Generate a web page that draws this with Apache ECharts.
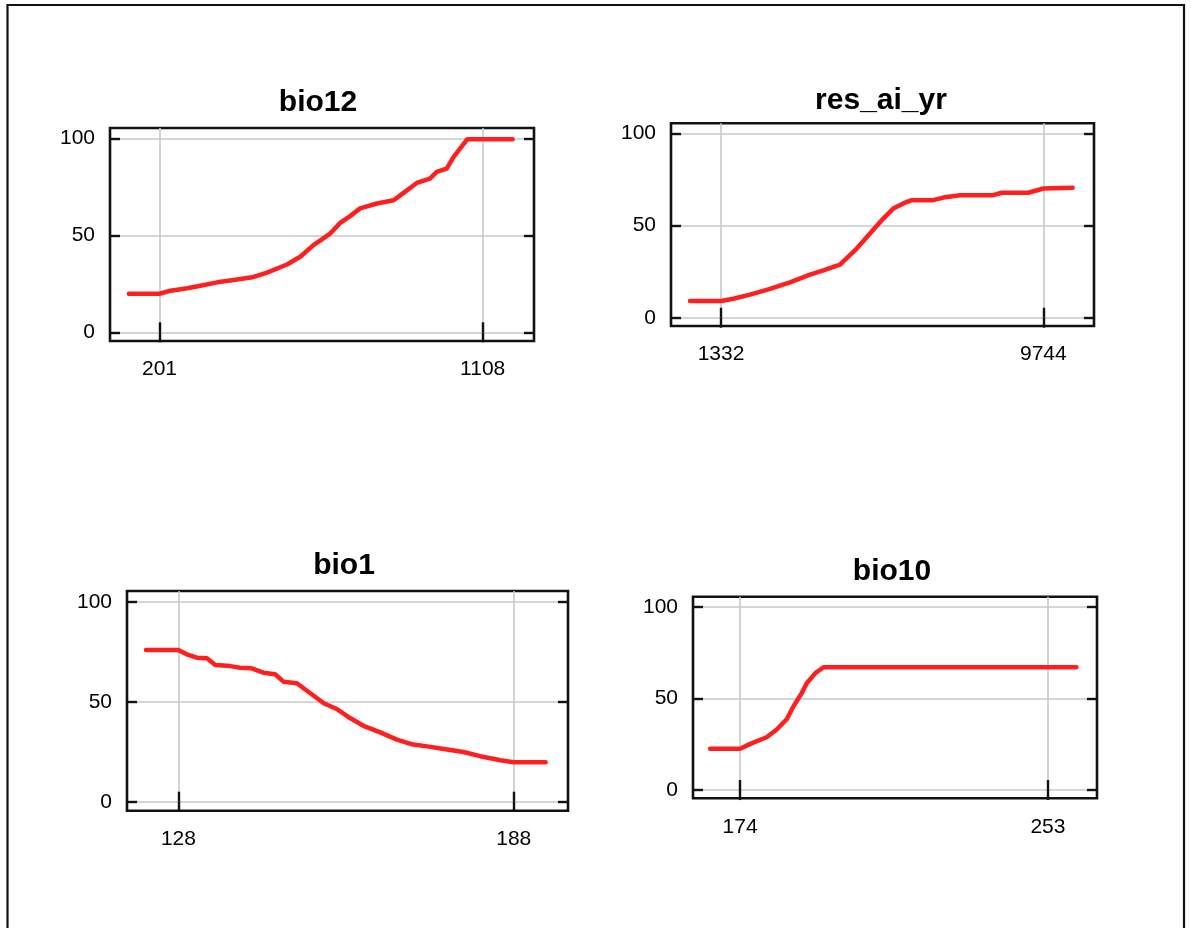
<!DOCTYPE html>
<html>
<head>
<meta charset="utf-8">
<title>response curves</title>
<script src="https://cdn.jsdelivr.net/npm/echarts@6/dist/echarts.min.js"></script>
<style>
  html, body { margin: 0; padding: 0; background: #fff; }
  #main { width: 1191px; height: 928px; }
</style>
</head>
<body>
<div id="main"></div>
<script>
// panel names
var titles = ["bio12", "res_ai_yr", "bio1", "bio10"];

// bio12 curve
var bio12X = [115, 201, 232, 279, 316, 363, 409, 461, 503, 559, 596, 633, 680, 708, 736, 764, 811, 858, 886, 923, 960, 979, 1007, 1026, 1065, 1108, 1192];
var bio12Y = [19.9, 19.9, 21.5, 22.7, 24, 25.8, 27, 28.4, 30.8, 35, 39, 45, 51, 56.5, 60, 64, 66.5, 68.2, 72, 77.1, 79.4, 82.8, 84.5, 90.5, 99.7, 99.7, 99.7];
var bio12Ticks = [201, 1108];

// res_ai_yr curve
var aiX = [523, 1332, 1654, 2089, 2611, 3133, 3655, 4003, 4438, 4873, 5220, 5568, 5829, 6090, 6308, 6873, 7134, 7569, 8439, 8657, 9352, 9744, 10510];
var aiY = [9.1, 9.1, 10.3, 12.5, 15.6, 19.2, 23.4, 25.7, 28.8, 37.5, 45.7, 53.8, 59.2, 62, 63.8, 63.8, 65.2, 66.5, 66.5, 67.8, 67.8, 70.1, 70.5];
var aiTicks = [1332, 9744];

// bio1 curve
var bio1X = [122.2, 128, 129.5, 131.3, 133.1, 134.6, 137.3, 139, 141.1, 143.2, 145.3, 146.8, 149.2, 151.6, 154, 156.4, 158.7, 161.1, 164.1, 167.1, 170, 172.5, 175.5, 179, 182, 185.6, 188, 193.7];
var bio1Y = [75.9, 75.9, 73.8, 72.1, 71.8, 68.4, 67.9, 67.1, 66.8, 64.6, 63.8, 60.1, 59.3, 54.3, 49.3, 46.3, 41.9, 38, 34.7, 31.1, 28.6, 27.7, 26.4, 24.9, 22.8, 20.8, 19.8, 19.8];
var bio1Ticks = [128, 188];

// bio10 curve
var bio10X = [166.3, 174, 176.6, 180.8, 183.4, 186, 187.7, 189.8, 191.1, 193.3, 195.4, 253, 260.3];
var bio10Y = [22.5, 22.5, 25.2, 28.8, 33, 38.8, 45.7, 52.9, 58.3, 63.8, 67, 67, 67];
var bio10Ticks = [174, 253];

var yTicks = [0, 50, 100];

var panels = [
  { x: bio12X, y: bio12Y, ticks: bio12Ticks, xmin: 62, xmax: 1252, grid: [110, 128, 424, 213], tx: 318, ty: 88 },
  { x: aiX, y: aiY, ticks: aiTicks, xmin: 27, xmax: 11067, grid: [671, 123.3, 423, 202.7], tx: 881, ty: 86 },
  { x: bio1X, y: bio1Y, ticks: bio1Ticks, xmin: 118.8, xmax: 197.7, grid: [127, 591, 441, 219.7], tx: 344, ty: 551 },
  { x: bio10X, y: bio10Y, ticks: bio10Ticks, xmin: 161.9, xmax: 265.6, grid: [693, 596.7, 404, 201.6], tx: 892, ty: 557 }
];

var font = "'Liberation Sans', Arial, sans-serif";
var ink = "#111";

var option = {
  animation: false,
  backgroundColor: "#fff",
  title: [],
  grid: [],
  xAxis: [],
  yAxis: [],
  series: [],
  graphic: [{
    type: "rect",
    shape: { x: 7.5, y: 5, width: 1176.5, height: 960 },
    style: { fill: "none", stroke: "#111", lineWidth: 2.2 },
    silent: true
  }]
};

// plain numbers, no thousands separator
function plain(v) { return String(v); }

panels.forEach(function(p, i) {
  option.title.push({
    text: titles[i],
    left: p.tx,
    top: p.ty,
    textAlign: "center",
    padding: 0,
    textStyle: { fontFamily: font, fontSize: 30, fontWeight: "bold", color: "#000" }
  });
  option.grid.push({
    left: p.grid[0], top: p.grid[1], width: p.grid[2], height: p.grid[3],
    show: true, borderColor: ink, borderWidth: 2.6, backgroundColor: "transparent"
  });
  var tickStyle = { show: true, inside: true, length: 10, lineStyle: { color: ink, width: 2.4 } };
  // bottom axis
  option.xAxis.push({
    type: "value", gridIndex: i, position: "bottom", min: p.xmin, max: p.xmax,
    axisLine: { show: false },
    axisTick: Object.assign({ customValues: p.ticks }, tickStyle),
    axisLabel: { customValues: p.ticks, formatter: plain, margin: 18, fontFamily: font, fontSize: 21, color: "#000" },
    splitLine: { show: true, lineStyle: { color: "#c8c8c8", width: 1.6 } }
  });
  // top axis, ticks only
  option.xAxis.push({
    type: "value", gridIndex: i, position: "top", min: p.xmin, max: p.xmax,
    axisLine: { show: false },
    axisTick: Object.assign({ customValues: p.ticks }, tickStyle),
    axisLabel: { show: false },
    splitLine: { show: false }
  });
  option.yAxis.push({
    type: "value", gridIndex: i, position: "left", min: -4.5, max: 105.5,
    axisLine: { show: false },
    axisTick: Object.assign({ customValues: yTicks }, tickStyle),
    axisLabel: { customValues: yTicks, formatter: plain, margin: 15, fontFamily: font, fontSize: 21, color: "#000" },
    splitLine: { show: true, lineStyle: { color: "#c8c8c8", width: 1.6 } }
  });
  option.yAxis.push({
    type: "value", gridIndex: i, position: "right", min: -4.5, max: 105.5,
    axisLine: { show: false },
    axisTick: Object.assign({ customValues: yTicks }, tickStyle),
    axisLabel: { show: false },
    splitLine: { show: false }
  });
  option.series.push({
    type: "line",
    xAxisIndex: i * 2,
    yAxisIndex: i * 2,
    showSymbol: false,
    data: p.x.map(function(v, k) { return [v, p.y[k]]; }),
    lineStyle: { color: "#ff1f1f", width: 4.5, join: "round", cap: "round" },
    itemStyle: { color: "#ff1f1f" }
  });
});

var chart = echarts.init(document.getElementById("main"));
chart.setOption(option);
</script>
</body>
</html>
